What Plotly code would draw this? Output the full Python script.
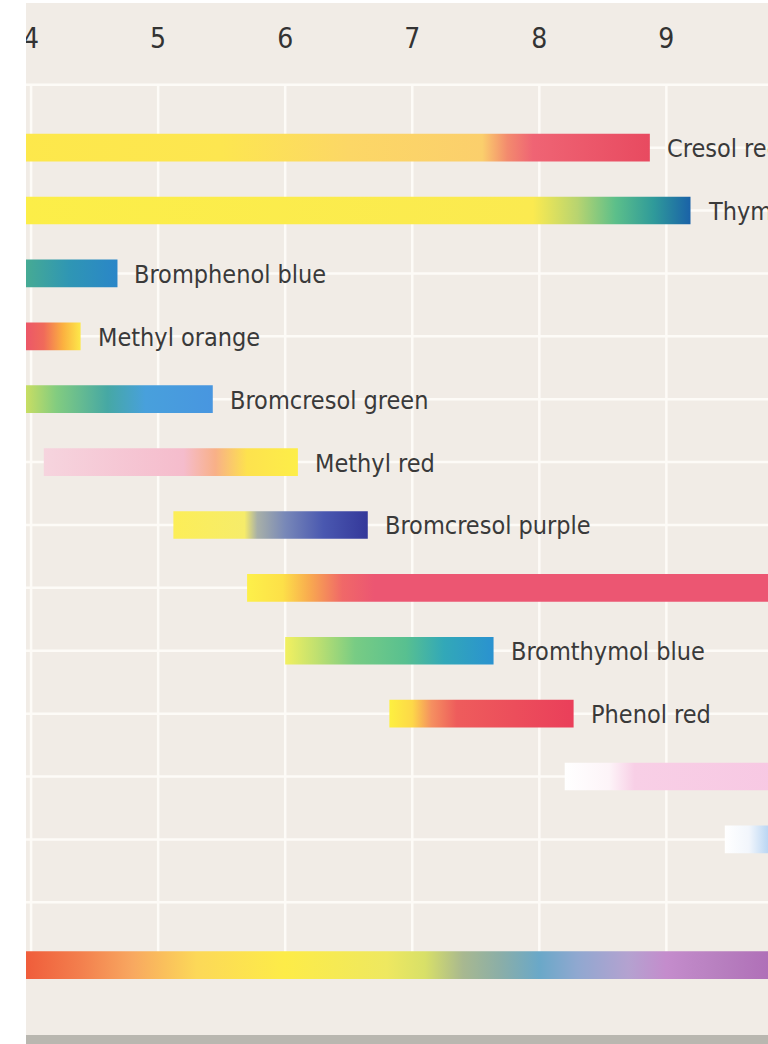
import plotly.graph_objects as go

# pH ranges of the indicators (only the visible part of the scale, 4 to ~9.8)
names = ["Cresol red", "Thymol blue", "Bromphenol blue", "Methyl orange",
         "Bromcresol green", "Methyl red", "Bromcresol purple", "",
         "Bromthymol blue", "Phenol red", "", "", ""]
rows = [1, 2, 3, 4, 5, 6, 7, 8, 9, 10, 11, 12, 14]
starts = [3.9, 3.9, 3.9, 3.9, 3.9, 4.1, 5.12, 5.7, 6.0, 6.82, 8.2, 9.46, 3.9]
ends = [8.87, 9.19, 4.68, 4.39, 5.43, 6.1, 6.65, 10.2, 7.64, 8.27, 10.2, 10.4, 10.2]

# colour stops along each bar: (pH, colour)
stops = [
    [(3.9, "#fde84b"), (5.5, "#fde650"), (6.5, "#fcd766"), (7.55, "#fbcf6c"),
     (7.75, "#f38a6e"), (7.95, "#ef6474"), (8.87, "#e84a60")],
    [(3.9, "#fcee48"), (7.95, "#fbea50"), (8.3, "#b8d470"), (8.6, "#5cbf8a"),
     (8.9, "#2f9a9a"), (9.19, "#1a62a8")],
    [(3.9, "#4aae8e"), (4.3, "#2f96b4"), (4.68, "#2a86c8")],
    [(3.9, "#ea4f6e"), (4.1, "#f06a5a"), (4.25, "#fbb040"), (4.39, "#fde84a")],
    [(3.9, "#d9e25c"), (4.2, "#82cc80"), (4.6, "#46a8a4"), (4.9, "#48a0dc"),
     (5.43, "#4896e0")],
    [(4.1, "#f6d4de"), (5.2, "#f5bccc"), (5.45, "#f8b088"), (5.7, "#fde24e"),
     (6.1, "#fdee48")],
    [(5.12, "#fcee58"), (5.68, "#f6ec6a"), (5.78, "#a8b0a8"), (6.0, "#7888b8"),
     (6.3, "#4a58b0"), (6.65, "#34389a")],
    [(5.7, "#fdf04a"), (5.98, "#fde048"), (6.2, "#f8a850"), (6.45, "#f06868"),
     (6.7, "#ec5672"), (10.2, "#ec5672")],
    [(6.0, "#f2f060"), (6.25, "#bfe070"), (6.55, "#78cc84"), (6.95, "#58c090"),
     (7.25, "#32a8b8"), (7.64, "#2a92d0")],
    [(6.82, "#fdf040"), (7.0, "#fdd848"), (7.15, "#f59060"), (7.35, "#ee5c5c"),
     (8.27, "#ea3f5a")],
    [(8.2, "#ffffff"), (8.55, "#fdf4f8"), (8.75, "#f8cfe6"), (10.2, "#f7c6e2")],
    [(9.46, "#ffffff"), (9.65, "#f2f6fc"), (9.85, "#a8ccf0"), (10.4, "#90bcec")],
    [(3.9, "#ef5838"), (4.4, "#f3804e"), (4.8, "#f8a860"), (5.3, "#fcd858"),
     (6.0, "#fdec48"), (6.8, "#eee860"), (7.1, "#d8e068"), (7.4, "#a8b890"),
     (7.7, "#8aaea8"), (8.0, "#6aa8c8"), (8.3, "#90a8d0"), (8.7, "#b4a2d0"),
     (9.0, "#c48ccc"), (9.4, "#b880c0"), (9.8, "#b070b8"), (10.2, "#b070b8")],
]

ph_ticks = [4, 5, 6, 7, 8, 9]

FONT = "DejaVu Sans Condensed, Liberation Sans Narrow, sans-serif"
BG = "#f1ece6"
GRID = "#fdfbf7"
half = 0.22  # half bar height in row units

fig = go.Figure()

# grid: only between the header line and the universal indicator bar
for p in ph_ticks:
    fig.add_shape(type="line", xref="x", yref="y", x0=p, x1=p, y0=0, y1=14,
                  line=dict(color=GRID, width=2.5), layer="below")
for r in range(0, 14):
    fig.add_shape(type="line", xref="paper", yref="y", x0=0, x1=1, y0=r, y1=r,
                  line=dict(color=GRID, width=2.5), layer="below")

for name, r, s, e, st in zip(names, rows, starts, ends, stops):
    cs = [[(p - s) / (e - s), c] for p, c in st]
    fig.add_trace(go.Scatter(
        x=[s, e, e, s, s],
        y=[r - half, r - half, r + half, r + half, r - half],
        mode="lines", fill="toself",
        line=dict(width=0, color="rgba(0,0,0,0)"),
        fillgradient=dict(type="horizontal", colorscale=cs),
        hoverinfo="skip", showlegend=False,
    ))
    if name:
        fig.add_annotation(x=e, y=r, text=name, showarrow=False,
                           xanchor="left", yanchor="middle", xshift=15, yshift=-1,
                           font=dict(family=FONT, size=25, color="#3a3a3a"))

# white left margin cuts the first tick label, grey strip at the bottom edge
fig.add_shape(type="rect", xref="paper", yref="paper", x0=-0.05, x1=0, y0=-0.01, y1=1.01,
              fillcolor="white", line_width=0, layer="above")
fig.add_shape(type="rect", xref="paper", yref="paper", x0=0, x1=1, y0=-0.01, y1=0,
              fillcolor="#b9b7b0", line_width=0)

fig.update_layout(
    width=768, height=1044,
    margin=dict(l=26, r=0, t=3, b=9, autoexpand=False),
    paper_bgcolor="white", plot_bgcolor=BG,
    xaxis=dict(range=[3.96, 9.8], side="top", tickvals=ph_ticks,
               ticklabelposition="inside", ticklabeloverflow="allow",
               ticks="", ticklabelstandoff=22, automargin=False,
               tickfont=dict(family=FONT, size=28, color="#333333"),
               showgrid=False, zeroline=False, showline=False, fixedrange=True),
    yaxis=dict(range=[15.11, -1.3], showticklabels=False, ticks="",
               automargin=False, showgrid=False, zeroline=False,
               showline=False, fixedrange=True),
)

fig.write_html("out.html", config={"displayModeBar": False},
               post_script="document.body.style.margin = '0';")
